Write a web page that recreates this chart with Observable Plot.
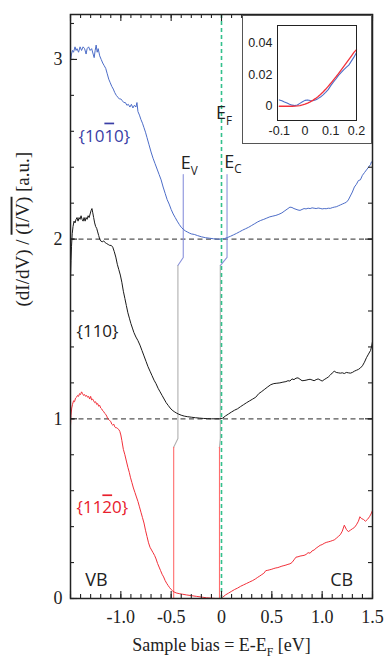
<!DOCTYPE html>
<html><head><meta charset="utf-8">
<script src="https://cdn.jsdelivr.net/npm/d3@7"></script>
<script src="https://cdn.jsdelivr.net/npm/@observablehq/plot@0.6"></script>
<style>
html,body{margin:0;padding:0;background:#fff;}
#wrap{position:relative;width:387px;height:664px;overflow:hidden;background:#fff;}
#inset{position:absolute;left:242px;top:15px;}
#inset svg{display:block;border:1px solid #555;background:#fff;}
#main svg{display:block;}
</style></head>
<body><div id="wrap"><div id="main"></div><div id="inset"></div></div>
<script>
// ---------- data: {10-10} surface (blue) ----------
const biasBlue = [-1.5,-1.49,-1.48,-1.47,-1.455,-1.445,-1.435,-1.42,-1.405,-1.39,-1.375,-1.36,-1.345,-1.335,-1.32,-1.305,-1.29,-1.275,-1.265,-1.255,-1.245,-1.235,-1.225,-1.21,-1.195,-1.18,-1.165,-1.15,-1.135,-1.12,-1.105,-1.09,-1.075,-1.06,-1.045,-1.03,-1.015,-1,-0.985,-0.97,-0.955,-0.94,-0.925,-0.91,-0.895,-0.88,-0.865,-0.85,-0.84,-0.83,-0.815,-0.8,-0.785,-0.77,-0.755,-0.74,-0.72,-0.7,-0.68,-0.66,-0.64,-0.62,-0.6,-0.58,-0.56,-0.54,-0.52,-0.5,-0.48,-0.46,-0.44,-0.42,-0.4,-0.38,-0.36,-0.34,-0.32,-0.3,-0.27,-0.24,-0.2,-0.16,-0.12,-0.08,-0.04,0,0.03,0.06,0.09,0.12,0.15,0.18,0.21,0.24,0.27,0.3,0.33,0.36,0.39,0.42,0.45,0.48,0.51,0.54,0.57,0.6,0.63,0.66,0.68,0.7,0.72,0.74,0.76,0.78,0.8,0.82,0.84,0.86,0.88,0.9,0.92,0.94,0.96,0.98,1,1.02,1.04,1.06,1.08,1.1,1.12,1.14,1.16,1.18,1.2,1.22,1.24,1.26,1.28,1.3,1.32,1.34,1.36,1.38,1.4,1.42,1.44,1.46,1.48,1.49,1.5];
const dosBlue = [2.99,3.03,3.05,3.04,3.07,3.05,3.06,3.04,3.07,3.05,3.07,3.06,3.03,3.06,3.07,3.05,3.06,3.03,3.01,3.05,3.08,3.04,3.06,3.02,3.0,2.98,2.965,2.95,2.92,2.89,2.87,2.85,2.835,2.815,2.8,2.79,2.78,2.78,2.77,2.76,2.76,2.745,2.75,2.735,2.75,2.73,2.745,2.735,2.76,2.71,2.69,2.665,2.645,2.62,2.595,2.565,2.525,2.485,2.45,2.42,2.39,2.36,2.33,2.29,2.255,2.22,2.195,2.165,2.14,2.12,2.1,2.082,2.066,2.055,2.046,2.04,2.034,2.029,2.026,2.02,2.013,2.008,2.005,2.002,2.0,2.0,2.003,2.009,2.016,2.024,2.032,2.041,2.05,2.058,2.066,2.076,2.086,2.096,2.104,2.11,2.117,2.124,2.128,2.132,2.138,2.146,2.158,2.17,2.178,2.176,2.17,2.166,2.162,2.16,2.165,2.17,2.168,2.172,2.17,2.174,2.172,2.17,2.173,2.171,2.168,2.17,2.169,2.172,2.171,2.175,2.178,2.18,2.185,2.19,2.195,2.2,2.205,2.218,2.24,2.262,2.29,2.305,2.326,2.33,2.355,2.37,2.385,2.4,2.415,2.43,2.43];

// ---------- data: {110} surface (black) ----------
const bias110 = [-1.5,-1.495,-1.49,-1.483,-1.475,-1.465,-1.455,-1.445,-1.435,-1.425,-1.415,-1.405,-1.395,-1.385,-1.375,-1.365,-1.355,-1.345,-1.335,-1.325,-1.315,-1.305,-1.295,-1.287,-1.28,-1.27,-1.26,-1.25,-1.24,-1.23,-1.22,-1.21,-1.2,-1.185,-1.17,-1.155,-1.14,-1.125,-1.11,-1.095,-1.08,-1.065,-1.05,-1.035,-1.02,-1.005,-0.99,-0.975,-0.96,-0.945,-0.93,-0.915,-0.9,-0.885,-0.87,-0.85,-0.83,-0.81,-0.79,-0.77,-0.75,-0.73,-0.71,-0.69,-0.67,-0.65,-0.63,-0.61,-0.59,-0.57,-0.55,-0.53,-0.51,-0.49,-0.47,-0.45,-0.43,-0.4,-0.37,-0.34,-0.3,-0.26,-0.22,-0.18,-0.14,-0.1,-0.06,-0.02,0.01,0.04,0.07,0.1,0.13,0.16,0.19,0.22,0.25,0.28,0.31,0.34,0.37,0.4,0.43,0.46,0.49,0.52,0.55,0.58,0.61,0.64,0.66,0.68,0.7,0.72,0.74,0.76,0.78,0.8,0.82,0.84,0.86,0.88,0.9,0.92,0.94,0.96,0.98,1,1.02,1.04,1.06,1.08,1.1,1.12,1.14,1.16,1.18,1.2,1.22,1.24,1.26,1.28,1.3,1.32,1.34,1.36,1.38,1.4,1.42,1.44,1.46,1.48,1.49,1.5];
const dos110 = [1.78,1.88,1.96,2.03,2.07,2.1,2.09,2.11,2.12,2.1,2.12,2.11,2.13,2.11,2.1,2.12,2.1,2.12,2.11,2.13,2.12,2.14,2.16,2.17,2.15,2.12,2.09,2.07,2.06,2.04,2.02,2.0,1.99,1.985,1.99,1.98,1.975,1.97,1.965,1.965,1.955,1.93,1.9,1.86,1.83,1.8,1.76,1.71,1.67,1.63,1.59,1.56,1.53,1.505,1.48,1.455,1.435,1.41,1.38,1.35,1.32,1.29,1.265,1.24,1.215,1.195,1.17,1.15,1.13,1.11,1.09,1.075,1.06,1.048,1.04,1.033,1.027,1.02,1.015,1.012,1.009,1.006,1.004,1.002,1.001,1.0,1.0,1.0,1.003,1.016,1.027,1.038,1.048,1.056,1.068,1.079,1.09,1.1,1.11,1.12,1.14,1.152,1.165,1.178,1.19,1.196,1.198,1.2,1.204,1.207,1.212,1.21,1.222,1.218,1.226,1.228,1.22,1.212,1.213,1.215,1.218,1.22,1.216,1.212,1.218,1.222,1.216,1.21,1.218,1.225,1.232,1.243,1.255,1.265,1.258,1.256,1.254,1.256,1.252,1.258,1.256,1.254,1.258,1.265,1.27,1.275,1.283,1.295,1.315,1.34,1.36,1.38,1.4,1.43];

// ---------- data: {11-20} surface (red) ----------
const biasRed = [-1.5,-1.495,-1.488,-1.48,-1.47,-1.46,-1.45,-1.44,-1.43,-1.42,-1.41,-1.4,-1.39,-1.38,-1.37,-1.36,-1.35,-1.34,-1.33,-1.32,-1.31,-1.3,-1.29,-1.28,-1.27,-1.26,-1.25,-1.24,-1.23,-1.22,-1.21,-1.2,-1.19,-1.18,-1.17,-1.16,-1.15,-1.14,-1.13,-1.12,-1.11,-1.1,-1.09,-1.08,-1.07,-1.06,-1.05,-1.04,-1.03,-1.02,-1.01,-1,-0.99,-0.975,-0.96,-0.945,-0.93,-0.915,-0.905,-0.89,-0.875,-0.86,-0.845,-0.83,-0.815,-0.8,-0.785,-0.77,-0.755,-0.74,-0.725,-0.71,-0.695,-0.68,-0.665,-0.65,-0.635,-0.62,-0.605,-0.59,-0.575,-0.56,-0.545,-0.53,-0.515,-0.5,-0.485,-0.47,-0.45,-0.42,-0.39,-0.35,-0.3,-0.25,-0.2,-0.15,-0.1,-0.06,-0.03,-0.01,0.01,0.04,0.07,0.1,0.13,0.16,0.19,0.22,0.25,0.28,0.31,0.34,0.36,0.38,0.4,0.42,0.44,0.46,0.48,0.5,0.52,0.54,0.56,0.58,0.6,0.62,0.64,0.66,0.68,0.7,0.72,0.74,0.76,0.78,0.8,0.82,0.84,0.86,0.88,0.9,0.92,0.94,0.96,0.98,1,1.02,1.04,1.06,1.08,1.1,1.12,1.14,1.16,1.18,1.2,1.22,1.24,1.26,1.28,1.3,1.32,1.34,1.36,1.375,1.39,1.41,1.43,1.45,1.47,1.485,1.5];
const dosRed = [0.96,1.02,1.06,1.08,1.1,1.095,1.115,1.12,1.13,1.125,1.14,1.135,1.15,1.14,1.13,1.135,1.125,1.13,1.12,1.125,1.11,1.125,1.105,1.11,1.1,1.09,1.095,1.08,1.085,1.07,1.075,1.06,1.055,1.045,1.04,1.03,1.025,1.015,1.0,0.995,0.99,0.985,0.97,0.965,0.97,0.955,0.95,0.95,0.945,0.94,0.93,0.91,0.88,0.83,0.8,0.765,0.73,0.7,0.675,0.645,0.615,0.59,0.565,0.54,0.51,0.48,0.45,0.42,0.38,0.345,0.31,0.285,0.27,0.255,0.24,0.22,0.195,0.175,0.155,0.135,0.12,0.1,0.085,0.072,0.06,0.05,0.042,0.036,0.031,0.027,0.024,0.02,0.016,0.012,0.008,0.004,0.002,0.0,0.0,0.0,0.006,0.02,0.03,0.04,0.05,0.058,0.068,0.076,0.084,0.092,0.1,0.11,0.118,0.125,0.133,0.14,0.155,0.157,0.16,0.163,0.167,0.17,0.172,0.176,0.18,0.183,0.186,0.19,0.193,0.2,0.215,0.23,0.232,0.236,0.238,0.24,0.245,0.255,0.252,0.265,0.27,0.28,0.288,0.296,0.3,0.307,0.312,0.315,0.318,0.322,0.326,0.335,0.345,0.355,0.375,0.408,0.385,0.372,0.38,0.388,0.395,0.41,0.43,0.455,0.445,0.44,0.43,0.44,0.455,0.47,0.49];

// ---------- band-edge markers (VBM / CBM per surface, top to bottom) ----------
const surfaces = ["{10‾[1]0}", "{110}", "{11‾[2]0}"];
const vbmEdge = [-0.38, -0.433, -0.475];
const cbmEdge = [0.055, -0.012, -0.02];
const edgeTop = [2.36, 1.853, 0.842];
const edgeBottom = [1.898, 0.89, 0];
const edgeColors = ["#8a92dc", "#b0b0b0", "#ff6d6d"];
const offsetLines = [1, 2];
const fermiLevel = [0];

// ---------- inset: measured vs fit near E_F ----------
const insetBias = [-0.1,-0.09,-0.08,-0.07,-0.06,-0.05,-0.04,-0.03,-0.02,-0.01,0,0.01,0.02,0.03,0.04,0.05,0.06,0.07,0.08,0.09,0.1,0.11,0.12,0.13,0.14,0.15,0.16,0.17,0.18,0.19,0.2];
const insetMeasured = [0.004,0.0035,0.0027,0.002,0.0013,0.0007,0.0004,0.0008,0.0018,0.0028,0.0037,0.004,0.0036,0.0035,0.004,0.0048,0.0058,0.0072,0.0088,0.0105,0.013,0.0152,0.0172,0.0195,0.0213,0.023,0.0245,0.026,0.0285,0.031,0.034];
const insetFit = [0,0,0,0,0,0,0.0001,0.0002,0.0004,0.0008,0.0013,0.002,0.0028,0.0037,0.0048,0.006,0.0074,0.009,0.0107,0.0126,0.0145,0.0165,0.0185,0.0206,0.0228,0.025,0.0272,0.0294,0.0317,0.034,0.0358];

// ---------- ticks & labels ----------
const xTickLabels = [-1, -0.5, 0, 0.5, 1, 1.5];
const xMajorTicks = [-1.5, -1, -0.5, 0, 0.5, 1, 1.5];
const xMinorTicks = d3.range(-15, 16).map(d => d / 10);
const yTickLabels = [0, 1, 2, 3];
const yMinorTicks = d3.range(0, 17).map(d => d / 5);
const insetXTicks = [-0.1, 0, 0.1, 0.2];
const insetYTicks = [0, 0.02, 0.04];
const yTitle = "(dI/dV) / ‾[(I/V)] [a.u.]";
const xTitle = "Sample bias = E-E_[F] [eV]";

const curveLabelX = [-1.42, -1.44, -1.44];
const curveLabelY = [2.573, 1.486, 0.504];
const curveLabelColors = ["#3a3ea6", "#1a1a1a", "#e8202c"];
const curveColors = ["#4d6dc8", "#1a1a1a", "#f2303a"];
const edgeLabelText = ["E_[F]", "E_[V]", "E_[C]"];
const edgeLabelX = [-0.054, -0.406, 0.028];
const edgeLabelY = [2.70, 2.42, 2.43];
const bandLabelText = ["VB", "CB"];
const bandLabelX = [-1.353, 1.308];
const bandLabelY = [0.10, 0.10];
const bandLabelAnchor = ["start", "end"];

// ---------- layout ----------
const W = 387, H = 664, mL = 70, mR = 15, mT = 14, mB = 66;
const frameW = W - mL - mR, frameH = H - mT - mB;
const minorLen = 4, majorLen = 7;

// ---------- build tables ----------
const rows = (xs, ys, s) => xs.map((x, i) => ({x, y: ys[i], s}));
const curves = [rows(biasBlue, dosBlue, 0), rows(bias110, dos110, 1), rows(biasRed, dosRed, 2)];
function edgePaths(edge) {
  return edge.map((v, i) => {
    const pts = [{x: v, y: edgeTop[i]}, {x: v, y: edgeBottom[i]}];
    if (i < edge.length - 1) pts.push({x: edge[i + 1], y: edgeTop[i + 1]});
    return pts;
  });
}
const vbmPaths = edgePaths(vbmEdge), cbmPaths = edgePaths(cbmEdge);
const curveLabels = surfaces.map((t, i) => ({t, x: curveLabelX[i], y: curveLabelY[i], c: curveLabelColors[i]}));
const edgeLabels = edgeLabelText.map((t, i) => ({t, x: edgeLabelX[i], y: edgeLabelY[i]}));
const bandLabels = bandLabelText.map((t, i) => ({t, x: bandLabelX[i], y: bandLabelY[i], a: bandLabelAnchor[i]}));

const serif = "'Liberation Serif', 'Times New Roman', serif";
const sans = "'Open Sans', 'DejaVu Sans', sans-serif";
const fmt1 = d => d === 0 ? "0" : d.toFixed(1);
const tickStroke = {stroke: "#222", strokeWidth: 1.1};

const marks = [];
offsetLines.forEach(v => marks.push(Plot.ruleY([v], {stroke: "#555", strokeWidth: 1.2, strokeDasharray: "5,3.5"})));
[vbmPaths, cbmPaths].forEach(paths => paths.forEach((p, i) => marks.push(Plot.line(p, {x: "x", y: "y", stroke: edgeColors[i], strokeWidth: 1.1}))));
curves.forEach((c, i) => marks.push(Plot.line(c, {x: "x", y: "y", stroke: curveColors[i], strokeWidth: 1})));
marks.push(Plot.ruleX(fermiLevel, {stroke: "#33c08c", strokeWidth: 1.6, strokeDasharray: "4,3"}));
// inward mirrored ticks
marks.push(Plot.ruleX(xMinorTicks, {...tickStroke, insetTop: frameH - minorLen}));
marks.push(Plot.ruleX(xMajorTicks, {...tickStroke, insetTop: frameH - majorLen}));
marks.push(Plot.ruleX(xMinorTicks, {...tickStroke, insetBottom: frameH - minorLen}));
marks.push(Plot.ruleX(xMajorTicks, {...tickStroke, insetBottom: frameH - majorLen}));
marks.push(Plot.ruleY(yMinorTicks, {...tickStroke, insetRight: frameW - minorLen}));
marks.push(Plot.ruleY(yTickLabels, {...tickStroke, insetRight: frameW - majorLen}));
marks.push(Plot.ruleY(yMinorTicks, {...tickStroke, insetLeft: frameW - minorLen}));
marks.push(Plot.ruleY(yTickLabels, {...tickStroke, insetLeft: frameW - majorLen}));
marks.push(Plot.frame({stroke: "#222", strokeWidth: 1.5}));
// tick labels
marks.push(Plot.axisX(xTickLabels, {anchor: "bottom", tickSize: 0, tickPadding: 12, fontSize: 18, fontFamily: serif, fill: "#222", label: null, tickFormat: fmt1}));
marks.push(Plot.axisY(yTickLabels, {anchor: "left", tickSize: 0, tickPadding: 8, fontSize: 18, fontFamily: serif, fill: "#222", label: null, tickFormat: d => String(d)}));
// titles
marks.push(Plot.text([yTitle], {frameAnchor: "left", rotate: -90, dx: -48, fontSize: 19, fontFamily: serif, fill: "#222"}));
marks.push(Plot.text([xTitle], {frameAnchor: "bottom", dy: 52, fontSize: 18, fontFamily: serif, fill: "#222"}));
// annotations
marks.push(Plot.text(curveLabels, {x: "x", y: "y", text: "t", fill: "c", textAnchor: "start", fontSize: 17, fontFamily: sans}));
marks.push(Plot.text(edgeLabels, {x: "x", y: "y", text: "t", fill: "#222", textAnchor: "start", fontSize: 18, fontFamily: sans}));
bandLabels.forEach(b => marks.push(Plot.text([b], {x: "x", y: "y", text: "t", fill: "#222", textAnchor: b.a, fontSize: 18, fontFamily: sans})));

const main = Plot.plot({
  width: W, height: H,
  marginLeft: mL, marginRight: mR, marginTop: mT, marginBottom: mB,
  x: {domain: [-1.5, 1.5]},
  y: {domain: [0, 3.25]},
  style: {background: "#fff", overflow: "visible"},
  marks
});
document.getElementById("main").appendChild(main);

const insetFont = "'Liberation Sans', Arial, sans-serif";
const inset = Plot.plot({
  width: 128, height: 127,
  marginLeft: 34, marginTop: 9, marginRight: 15, marginBottom: 23,
  x: {domain: [-0.107, 0.2]},
  y: {domain: [-0.009, 0.051]},
  style: {background: "#fff"},
  marks: [
    Plot.line(rows(insetBias, insetMeasured, 0), {x: "x", y: "y", stroke: "#4d6dc8", strokeWidth: 1.1}),
    Plot.line(rows(insetBias, insetFit, 1), {x: "x", y: "y", stroke: "#f2303a", strokeWidth: 1.3}),
    Plot.frame({stroke: "#222", strokeWidth: 1}),
    Plot.axisX(insetXTicks, {anchor: "bottom", tickSize: 0, tickPadding: 6, fontSize: 12.5, fontFamily: insetFont, fill: "#222", label: null, tickFormat: d => d === 0 ? "0" : String(d)}),
    Plot.axisY(insetYTicks, {anchor: "left", tickSize: 0, tickPadding: 5, fontSize: 12.5, fontFamily: insetFont, fill: "#222", label: null, tickFormat: d => d === 0 ? "0" : String(d)})
  ]
});
document.getElementById("inset").appendChild(inset);

// rich text: ‾[..] = overline, _[..] = subscript
function enrich(svg) {
  d3.select(svg).selectAll("text").each(function () {
    const el = this;
    const s = el.textContent;
    if (!/[‾_]\[/.test(s)) return;
    const fs = parseFloat(getComputedStyle(el).fontSize) || 16;
    while (el.firstChild) el.removeChild(el.firstChild);
    const re = /([‾_])\[([^\]]*)\]/g;
    let last = 0, m, shifted = false;
    const add = txt => {
      const t = document.createElementNS("http://www.w3.org/2000/svg", "tspan");
      t.textContent = txt;
      if (shifted) { t.setAttribute("dy", -0.3 * fs); shifted = false; }
      el.appendChild(t);
      return t;
    };
    while ((m = re.exec(s))) {
      if (m.index > last) add(s.slice(last, m.index));
      const t = add(m[2]);
      if (m[1] === "‾") {
        t.style.textDecoration = "overline";
      } else {
        t.setAttribute("dy", 0.3 * fs);
        t.setAttribute("font-size", 0.65 * fs);
        shifted = true;
      }
      last = re.lastIndex;
    }
    if (last < s.length) add(s.slice(last));
  });
}
enrich(main);
</script></body></html>
